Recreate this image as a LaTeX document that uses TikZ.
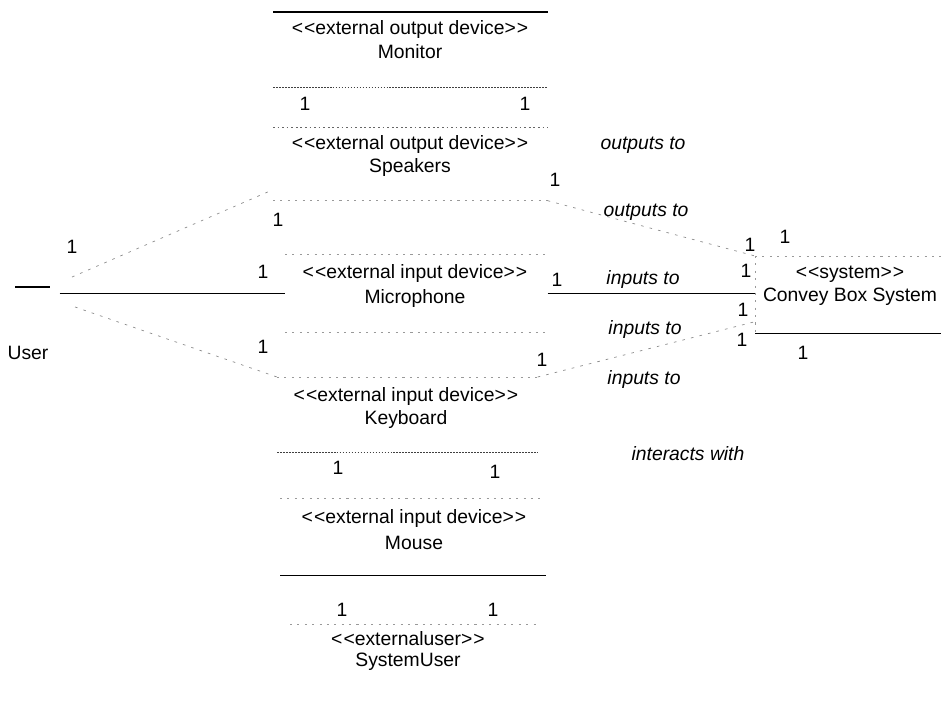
\documentclass[tikz,border=0pt]{standalone}
\usepackage{fontspec}
\setmainfont{Liberation Sans}
% guillemet-free stereotype brackets
\newcommand\stL{<\kern0.6pt<}
\newcommand\stR{>\kern0.6pt>}
\begin{document}
\begin{tikzpicture}[x=0.02cm,y=-0.02cm,
  font=\fontsize{11}{13.5}\selectfont,
  cls/.style={rectangle, draw=none, inner sep=0pt, anchor=north west},
  stxt/.style={inner sep=0pt, anchor=base},
  mult/.style={inner sep=0pt},
  role/.style={inner sep=0pt, anchor=base, font=\fontsize{11}{13.5}\selectfont\itshape},
  solidedge/.style={draw=black, line width=0.7pt},
  darkdots/.style={draw=black!75, line width=0.45pt, dash pattern=on 1pt off 0.7pt},
  middots/.style={draw=black!60, line width=0.4pt, dash pattern=on 1pt off 1.6pt},
  fadedots/.style={draw=black!40, line width=0.4pt, dash pattern=on 1.2pt off 3pt},
  assoc/.style={draw=black, line width=0.7pt},
  faintassoc/.style={draw=black!45, line width=0.4pt, dash pattern=on 1.5pt off 3.5pt}]

\useasboundingbox (0,0) rectangle (941,703);

% ---------- class boxes ----------
\node[cls, minimum width=5.48cm, minimum height=1.5cm]  (monitor) at (273,12)  {};
\node[cls, minimum width=5.48cm, minimum height=1.46cm] (speakers) at (273,127) {};
\node[cls, minimum width=5.24cm, minimum height=1.56cm] (mic) at (285,254) {};
\node[cls, minimum width=5.2cm,  minimum height=1.5cm]  (kbd) at (277,377) {};
\node[cls, minimum width=5.3cm,  minimum height=1.54cm] (mouse) at (280,498) {};
\node[cls, minimum width=5.0cm,  minimum height=1.2cm]  (sysuser) at (290,624) {};
\node[cls, minimum width=3.8cm,  minimum height=1.54cm] (sys) at (755,256) {};
\node[cls, minimum width=0.88cm, minimum height=1.2cm]  (user) at (15,240) {};

% box edges as they show
\draw[solidedge] (monitor.north west) -- (monitor.north east);
\draw[darkdots]  (monitor.south west) -- (monitor.south east);
\draw[middots]   (speakers.north west) -- (speakers.north east);
\draw[fadedots]  (speakers.south west) -- (speakers.south east);
\draw[fadedots]  (mic.north west) -- (mic.north east);
\draw[fadedots]  (mic.south west) -- (mic.south east);
\draw[fadedots]  (kbd.north west) -- (kbd.north east);
\draw[darkdots]  (kbd.south west) -- (kbd.south east);
\draw[fadedots]  (mouse.north west) -- (mouse.north east);
\draw[solidedge] (mouse.south west) -- (mouse.south east);
\draw[fadedots]  (sysuser.north west) -- (sysuser.north east);
\draw[fadedots]  (sys.north west) -- (sys.north east);
\draw[fadedots]  (sys.north west) -- (sys.south west);
\draw[solidedge] (sys.south west) -- (sys.south east);

% class texts
\node[stxt] (monitorst) at (410,34)  {\stL external output device\stR};
\node[stxt] (monitornm) at (410,58)  {Monitor};
\node[stxt] (speakersst) at (410,149) {\stL external output device\stR};
\node[stxt] (speakersnm) at (410,172) {Speakers};
\node[stxt] (micst) at (415,278) {\stL external input device\stR};
\node[stxt] (micnm) at (415,303) {Microphone};
\node[stxt] (kbdst) at (406,401) {\stL external input device\stR};
\node[stxt] (kbdnm) at (406,424) {Keyboard};
\node[stxt] (mousest) at (414,523) {\stL external input device\stR};
\node[stxt] (mousenm) at (414,549) {Mouse};
\node[stxt] (sysuserst) at (408,645) {\stL externaluser\stR};
\node[stxt] (sysusernm) at (408,666) {SystemUser};
\node[stxt] (sysst) at (850,278) {\stL system\stR};
\node[stxt] (sysnm) at (850,301) {Convey Box System};

% actor
\draw[solidedge] (15,287) -- (50,287);
\node[stxt] (userlbl) at (28,359) {User};

% ---------- associations ----------
\coordinate (uSpk) at (72,277);
\coordinate (uKbd) at (75,307);
\draw[assoc] (user.east |- mic.west) -- (mic.west);
\draw[assoc] (mic.east) -- (sys.west |- mic.east);
\draw[faintassoc] (uSpk) -- ([yshift=0.22cm]speakers.south west);
\draw[faintassoc] (uKbd) -- (kbd.north west);
\draw[faintassoc] (speakers.south east) -- (sys.north west);
\draw[faintassoc] (kbd.north east) -- ([yshift=0.24cm]sys.south west);

% ---------- role names ----------
\node[role] (r1) at (643,149) {outputs to};
\node[role] (r2) at (646,216) {outputs to};
\node[role] (r3) at (643,284) {inputs to};
\node[role] (r4) at (645,334) {inputs to};
\node[role] (r5) at (644,384) {inputs to};
\node[role] (r6) at (688,460) {interacts with};

% ---------- multiplicities ----------
\node[mult] (m1)  at (72,247)  {1};
\node[mult] (m2)  at (278,220) {1};
\node[mult] (m3)  at (263,272) {1};
\node[mult] (m4)  at (263,347) {1};
\node[mult] (m5)  at (305,104) {1};
\node[mult] (m6)  at (525,104) {1};
\node[mult] (m7)  at (555,180) {1};
\node[mult] (m8)  at (557,280) {1};
\node[mult] (m9)  at (542,360) {1};
\node[mult] (m10) at (750,245) {1};
\node[mult] (m11) at (785,237) {1};
\node[mult] (m12) at (746,271) {1};
\node[mult] (m13) at (743,310) {1};
\node[mult] (m14) at (742,340) {1};
\node[mult] (m15) at (803,353) {1};
\node[mult] (m16) at (338,468) {1};
\node[mult] (m17) at (495,472) {1};
\node[mult] (m18) at (342,610) {1};
\node[mult] (m19) at (493,610) {1};
\end{tikzpicture}
\end{document}
